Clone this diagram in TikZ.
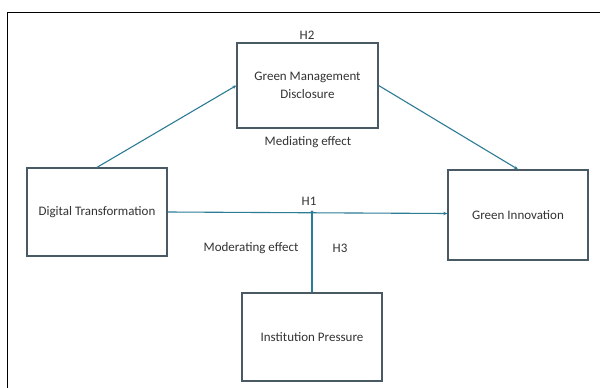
\documentclass[tikz,border=0pt]{standalone}
\usepackage{fontspec}
\setmainfont{Carlito}
\usetikzlibrary{arrows.meta}
\definecolor{boxc}{HTML}{4A5A64}
\definecolor{linec}{HTML}{2C7C96}
\definecolor{txt}{HTML}{333333}
\begin{document}
\begin{tikzpicture}[x=1pt,y=-1pt,
  box/.style={draw=boxc,line width=1.3pt,fill=white,inner sep=0pt,align=center,font=\fontsize{13}{18}\selectfont,text=txt},
  lbl/.style={inner sep=0pt,font=\fontsize{13}{16}\selectfont,text=txt},
  conn/.style={draw=linec,line width=1.1pt,-{Stealth[length=4pt,width=3.5pt]}}]
\useasboundingbox (0,0) rectangle (600,388);
\fill[white] (0,0) rectangle (600,388);
\draw[line width=1.6pt,black] (7.5,388) -- (7.5,12.5) -- (600,12.5);
\node[box,minimum width=141pt,minimum height=85pt] (gmd) at (307.5,85.5) {Green Management\\Disclosure};
\node[box,minimum width=140pt,minimum height=88pt] (dt) at (97,212) {Digital Transformation};
\node[box,minimum width=140pt,minimum height=90pt] (gi) at (518,215) {Green Innovation};
\node[box,minimum width=140pt,minimum height=88pt] (ip) at (312,337) {Institution Pressure};
\node[lbl] (h2) at (307,35) {H2};
\node[lbl] (med) at (308,142) {Mediating effect};
\node[lbl] (h1) at (309,201) {H1};
\node[lbl] (mod) at (251,248) {Moderating effect};
\node[lbl] (h3) at (340,248) {H3};
\coordinate (gin) at (gi.west |- dt.east);
\coordinate (j) at (ip.north |- dt.east);
\draw[conn] (dt.north) -- (gmd.west);
\draw[conn] (gmd.east) -- (gi.north);
\draw[conn] (dt.east) -- ([yshift=-1.5pt]gin);
\draw[draw=linec,line width=1.1pt] (ip.north) -- (j);
\fill[linec] (j) circle (1.6pt);
\end{tikzpicture}
\end{document}
